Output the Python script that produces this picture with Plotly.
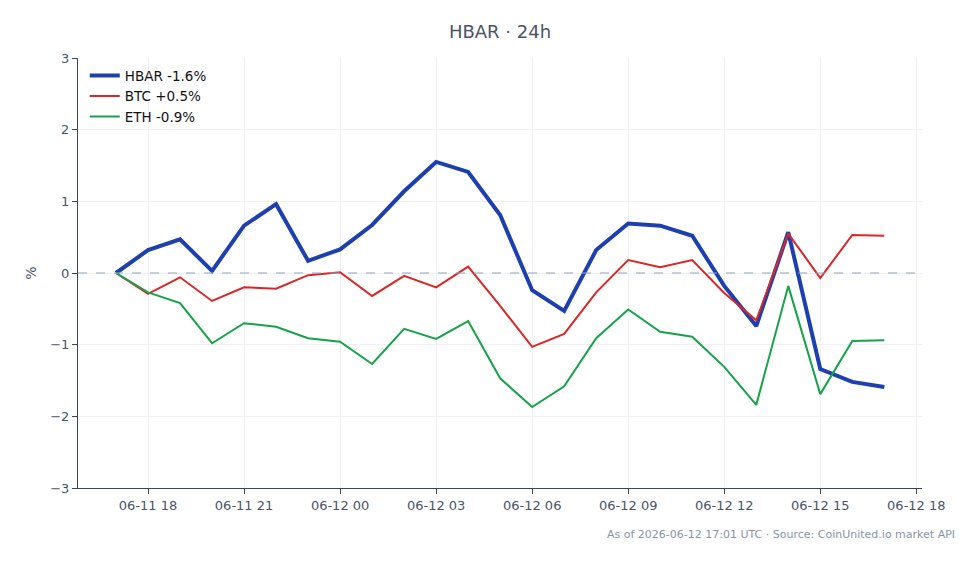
import plotly.graph_objects as go
import pandas as pd

times = pd.date_range("2026-06-11 17:00", "2026-06-12 17:00", freq="h")

hbar = [0, 0.32, 0.47, 0.03, 0.66, 0.96, 0.17, 0.33, 0.67, 1.14, 1.55, 1.41, 0.81,
        -0.24, -0.53, 0.32, 0.69, 0.66, 0.52, -0.18, -0.74, 0.57, -1.34, -1.52, -1.59]
btc = [0, -0.29, -0.06, -0.39, -0.2, -0.22, -0.03, 0.01, -0.32, -0.04, -0.2, 0.09, -0.46,
       -1.03, -0.85, -0.27, 0.18, 0.08, 0.18, -0.28, -0.66, 0.55, -0.07, 0.53, 0.52]
eth = [0, -0.27, -0.42, -0.98, -0.7, -0.75, -0.91, -0.96, -1.27, -0.78, -0.92, -0.67, -1.47,
       -1.87, -1.58, -0.91, -0.51, -0.82, -0.89, -1.31, -1.84, -0.18, -1.69, -0.95, -0.94]

series = [
    ("HBAR -1.6%", hbar, "#1e40af", 4),
    ("BTC +0.5%", btc, "#dc2626", 2),
    ("ETH -0.9%", eth, "#16a34a", 2),
]

fig = go.Figure()
for name, vals, color, w in series:
    fig.add_trace(go.Scatter(x=times, y=vals, mode="lines", name=name,
                             line=dict(color=color, width=w)))

fig.add_hline(y=0, line=dict(color="#8fa3bf", width=1, dash="dash"))

font = "DejaVu Sans, sans-serif"
fig.update_layout(
    width=979, height=564,
    margin=dict(l=78, r=57, t=58, b=76),
    paper_bgcolor="white", plot_bgcolor="white",
    font=dict(family=font, size=13, color="#4a5568"),
    title=dict(text="HBAR · 24h", x=0.5, xref="paper", xanchor="center",
               y=0.943, yref="container", yanchor="middle",
               font=dict(size=18, color="#4a5568", family=font)),
    legend=dict(x=0.008, y=0.995, xanchor="left", yanchor="top",
                bgcolor="rgba(255,255,255,0)", font=dict(size=13.5, color="#111111"),
                tracegroupgap=0),
    showlegend=True,
    annotations=[dict(text="As of 2026-06-12 17:01 UTC · Source: CoinUnited.io market API",
                      xref="paper", yref="paper", x=1.042, y=-0.108,
                      xanchor="right", yanchor="middle", showarrow=False,
                      font=dict(size=11, color="#8a94a6"))],
)
fig.update_xaxes(
    range=["2026-06-11 15:48:45", "2026-06-12 18:10:40"],
    tickformat="%m-%d %H", dtick=3 * 3600 * 1000,
    tick0="2026-06-11 18:00",
    showgrid=True, gridcolor="#eef0f4", gridwidth=1,
    showline=True, linecolor="#3b4556", linewidth=1,
    ticks="outside", ticklen=5, tickcolor="#3b4556",
    tickfont=dict(size=13, color="#4a5568"),
)
fig.update_yaxes(
    range=[-3, 3], dtick=1,
    showgrid=True, gridcolor="#eef0f4", gridwidth=1,
    zeroline=False,
    showline=True, linecolor="#3b4556", linewidth=1,
    ticks="outside", ticklen=5, tickcolor="#3b4556",
    title=dict(text="%", font=dict(size=14, color="#4a5568"), standoff=10),
    tickfont=dict(size=13, color="#4a5568"),
)

fig.write_html("out.html")
